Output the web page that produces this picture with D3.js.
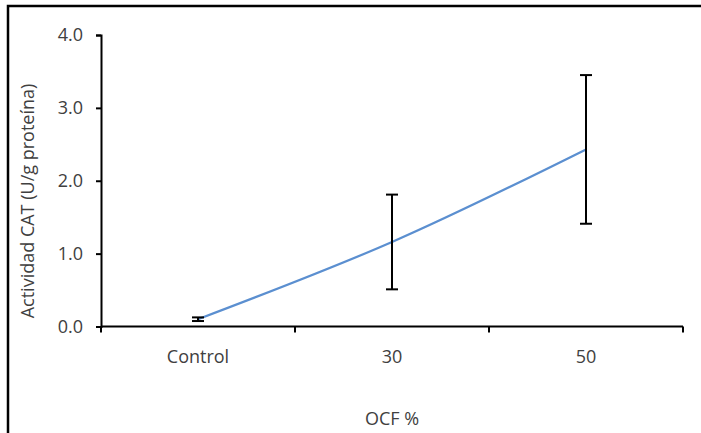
<!DOCTYPE html>
<html>
<head>
<meta charset="utf-8">
<script src="https://cdn.jsdelivr.net/npm/d3@7"></script>
<style>
  body { margin: 0; background: #fff; }
  text { font-family: "Open Sans", "Liberation Sans", sans-serif; fill: #404040; }
</style>
</head>
<body>
<div id="chart"></div>
<script>
var categories = ["Control", "30", "50"]
var means      = [0.10, 1.16, 2.43]
var errors     = [0.025, 0.65, 1.02]
var yTicks     = [0, 1, 2, 3, 4]

function drawChart(target) {
  var W = 701, H = 433

  var svg = d3.select(target).append("svg")
    .attr("width", W)
    .attr("height", H)

  // outer frame (right and bottom edge run off the picture)
  svg.append("rect")
    .attr("x", 8).attr("y", 6)
    .attr("width", W + 20).attr("height", H + 20)
    .attr("fill", "none")
    .attr("stroke", "#000")
    .attr("stroke-width", 2.5)

  var x = d3.scaleBand()
    .domain(categories)
    .range([101, 683])

  var y = d3.scaleLinear()
    .domain([0, 4])
    .range([326.5, 35])

  var g = svg.append("g")

  // y axis
  var ya = g.append("g")
    .attr("transform", "translate(101,0)")
    .call(d3.axisLeft(y).tickValues(yTicks).tickFormat(d3.format(".1f")).tickSize(5).tickPadding(13))
  ya.select(".domain").attr("stroke", "#000").attr("stroke-width", 2)
  ya.selectAll(".tick line").attr("stroke", "#000").attr("stroke-width", 2)
  ya.selectAll(".tick text").style("font-size", "18px").attr("fill", "#404040")

  // x axis: ticks on band boundaries
  var xa = g.append("g")
    .attr("transform", "translate(0," + y(0) + ")")
  xa.append("line")
    .attr("x1", 101).attr("x2", 683)
    .attr("stroke", "#000").attr("stroke-width", 2)
  var bounds = categories.map(c => x(c)).concat([x.range()[1]])
  xa.selectAll(".xtick").data(bounds).join("line")
    .attr("x1", d => d).attr("x2", d => d)
    .attr("y1", 0).attr("y2", 6)
    .attr("stroke", "#000").attr("stroke-width", 2)
  xa.selectAll(".xlab").data(categories).join("text")
    .attr("x", d => x(d) + x.bandwidth() / 2)
    .attr("y", 36)
    .attr("text-anchor", "middle")
    .style("font-size", "18px")
    .text(d => d)

  var pts = categories.map((c, i) => ({x: x(c) + x.bandwidth() / 2, v: means[i], e: errors[i]}))

  // smoothed line
  var line = d3.line()
    .x(d => d.x)
    .y(d => y(d.v))
    .curve(d3.curveCatmullRom)

  g.append("path")
    .datum(pts)
    .attr("fill", "none")
    .attr("stroke", "#5b8fd0")
    .attr("stroke-width", 2.25)
    .attr("d", line)

  // error bars
  var eb = g.selectAll(".err").data(pts).join("g")
  eb.append("line")
    .attr("x1", d => d.x).attr("x2", d => d.x)
    .attr("y1", d => y(d.v + d.e)).attr("y2", d => y(d.v - d.e))
    .attr("stroke", "#000").attr("stroke-width", 2)
  eb.selectAll(".cap").data(d => [[d.x, d.v + d.e], [d.x, d.v - d.e]]).join("line")
    .attr("x1", d => d[0] - 6).attr("x2", d => d[0] + 6)
    .attr("y1", d => y(d[1])).attr("y2", d => y(d[1]))
    .attr("stroke", "#000").attr("stroke-width", 2)

  // titles
  svg.append("text")
    .attr("transform", "translate(34,201) rotate(-90)")
    .attr("text-anchor", "middle")
    .style("font-size", "18px")
    .text("Actividad CAT (U/g proteína)")

  svg.append("text")
    .attr("x", 392).attr("y", 425)
    .attr("text-anchor", "middle")
    .style("font-size", "18px")
    .text("OCF %")
}

drawChart("#chart")
</script>
</body>
</html>
